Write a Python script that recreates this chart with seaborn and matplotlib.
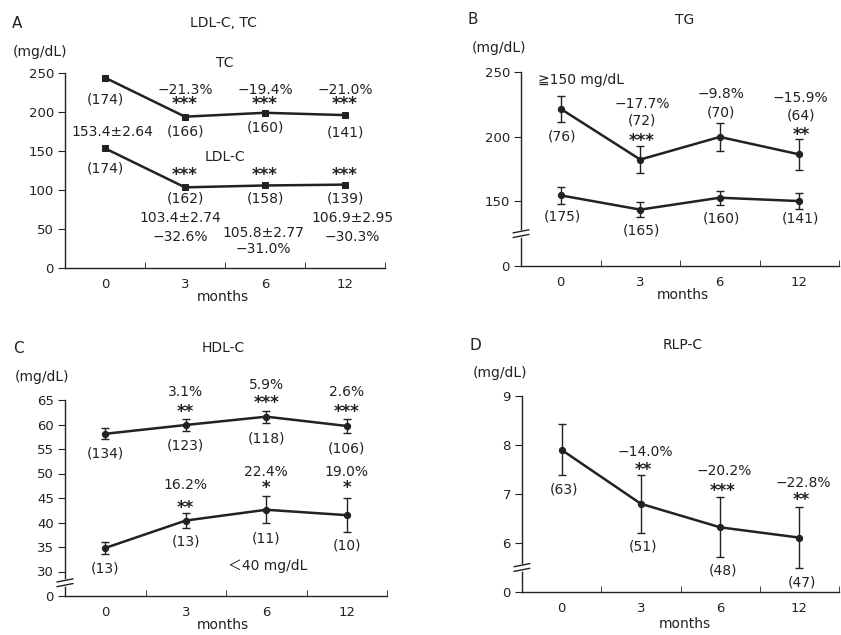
import numpy as np
import pandas as pd
import matplotlib
matplotlib.use("Agg")
import matplotlib.pyplot as plt
import seaborn as sns

# ---------------- data ----------------
months = ["0", "3", "6", "12"]

# A: LDL-C, TC
tc_mean = [244, 194, 199, 196]
tc_n = ["(174)", "(166)", "(160)", "(141)"]
tc_pct = ["", "−21.3%", "−19.4%", "−21.0%"]
ldl_mean = [153.4, 103.4, 105.8, 106.9]
ldl_se = [2.64, 2.74, 2.77, 2.95]
ldl_n = ["(174)", "(162)", "(158)", "(139)"]
ldl_pct = ["", "−32.6%", "−31.0%", "−30.3%"]
a_sig = ["", "***", "***", "***"]

# B: TG
tg_hi_mean = [221.5, 182.3, 199.8, 186.3]
tg_hi_err = [10.0, 10.5, 10.8, 12.0]
tg_hi_n = ["(76)", "(72)", "(70)", "(64)"]
tg_hi_pct = ["", "−17.7%", "−9.8%", "−15.9%"]
tg_hi_sig = ["", "***", "", "**"]
tg_all_mean = [154.6, 143.6, 152.8, 150.2]
tg_all_err = [6.5, 5.5, 5.3, 6.5]
tg_all_n = ["(175)", "(165)", "(160)", "(141)"]

# C: HDL-C
hdl_all_mean = [58.1, 59.9, 61.6, 59.7]
hdl_all_err = [1.1, 1.3, 1.2, 1.4]
hdl_all_n = ["(134)", "(123)", "(118)", "(106)"]
hdl_all_pct = ["", "3.1%", "5.9%", "2.6%"]
hdl_all_sig = ["", "**", "***", "***"]
hdl_lo_mean = [34.8, 40.4, 42.6, 41.5]
hdl_lo_err = [1.2, 1.5, 2.8, 3.5]
hdl_lo_n = ["(13)", "(13)", "(11)", "(10)"]
hdl_lo_pct = ["", "16.2%", "22.4%", "19.0%"]
hdl_lo_sig = ["", "**", "*", "*"]

# D: RLP-C
rlp_mean = [7.9, 6.8, 6.32, 6.11]
rlp_err = [0.52, 0.59, 0.61, 0.62]
rlp_n = ["(63)", "(51)", "(48)", "(47)"]
rlp_pct = ["", "−14.0%", "−20.2%", "−22.8%"]
rlp_sig = ["", "**", "***", "**"]

# ---------------- style ----------------
sns.set_style("ticks")
plt.rcParams["font.family"] = ["DejaVu Sans", "Noto Sans CJK JP"]
plt.rcParams["axes.linewidth"] = 1.0
INK = "#222222"
FS = 10
TFS = 9.5

W, H = 841, 635
fig = plt.figure(figsize=(W / 100, H / 100), dpi=100)
fig.patch.set_facecolor("white")


def ftext(x, y, s, **kw):
    kw.setdefault("fontsize", FS)
    kw.setdefault("color", INK)
    fig.text(x / W, 1 - y / H, s, **kw)


def make_ax(left, bottom, right, top):
    ax = fig.add_axes([left / W, 1 - bottom / H, (right - left) / W, (bottom - top) / H])
    sns.despine(ax=ax)
    ax.set_xlim(-0.5, 3.5)
    ax.set_xticks(range(4))
    ax.set_xticklabels(months, fontsize=TFS, color=INK)
    ax.tick_params(axis="x", which="major", length=0, pad=7)
    ax.set_xticks([0.5, 1.5, 2.5, 3.5], minor=True)
    ax.tick_params(axis="x", which="minor", direction="in", length=4, color=INK)
    ax.tick_params(axis="y", length=5, color=INK, labelsize=TFS, labelcolor=INK, pad=3)
    for s in ["left", "bottom"]:
        ax.spines[s].set_color(INK)
    ax.set_xlabel("")
    ax.set_ylabel("")
    ax.set_facecolor("white")
    return ax


def series(ax, mean, err=None, marker="o"):
    df = pd.DataFrame({"pos": np.arange(len(months)), "value": mean})
    sns.lineplot(data=df, x="pos", y="value", ax=ax, color=INK, lw=1.8,
                 marker=marker, markersize=4.5, markeredgecolor=INK, clip_on=False)
    if err is not None:
        ax.errorbar(df["pos"], df["value"], yerr=err, fmt="none", ecolor=INK,
                    elinewidth=1.0, capsize=3, capthick=1.0, clip_on=False)
    ax.set_xlabel("")
    ax.set_ylabel("")


def txt(ax, x, y, s, **kw):
    kw.setdefault("fontsize", FS)
    kw.setdefault("color", INK)
    kw.setdefault("ha", "center")
    kw.setdefault("va", "center")
    ax.text(x, y, s, clip_on=False, **kw)


def star(ax, x, y, s):
    txt(ax, x, y, s, fontsize=FS + 2, fontweight="bold", va="center")


def brk(ax, yv):
    # axis break mark on the y spine
    y0 = ax.transAxes.inverted().transform(ax.transData.transform((0, yv)))[1]
    ax.plot([0, 0], [y0 - 0.012, y0 + 0.012], transform=ax.transAxes, color="white",
            lw=2, clip_on=False, zorder=5)
    for d in (-0.012, 0.012):
        ax.plot([-0.025, 0.025], [y0 + d - 0.008, y0 + d + 0.008], transform=ax.transAxes,
                color=INK, lw=1.0, clip_on=False, zorder=6)


# ---------------- A ----------------
axA = make_ax(65, 268, 385, 73)
axA.set_ylim(0, 250)
axA.set_yticks([0, 50, 100, 150, 200, 250])
series(axA, tc_mean, marker="s")
series(axA, ldl_mean, marker="s")
ftext(17, 23, "A", ha="center", va="center", fontsize=FS + 1)
ftext(223, 23, "LDL-C, TC", ha="center", va="center")
ftext(40, 52, "(mg/dL)", ha="center", va="center")
ftext(223, 297, "months", ha="center", va="center")
txt(axA, 1.5, 262.8, "TC")
txt(axA, 1.5, 142.3, "LDL-C")
txt(axA, 0, 215.4, tc_n[0])
txt(axA, 0, 128.2, ldl_n[0])
txt(axA, 0.09, 174.4, "153.4±2.64")
tc_n_y = [None, 174.4, 179.5, 173.1]
for i in range(1, 4):
    txt(axA, i, 228.2, tc_pct[i])
    star(axA, i, 210.0, a_sig[i])
    txt(axA, i, tc_n_y[i], tc_n[i])
    star(axA, i, 119.0, a_sig[i])
    txt(axA, i, 89.7, ldl_n[i])
ldl_lab_x = [None, 0.94, 1.975, 3.09]
ldl_lab_y = [None, (64.1, 39.7), (44.9, 24.4), (64.1, 39.7)]
for i in range(1, 4):
    txt(axA, ldl_lab_x[i], ldl_lab_y[i][0], f"{ldl_mean[i]:.1f}±{ldl_se[i]:.2f}")
    txt(axA, ldl_lab_x[i], ldl_lab_y[i][1], ldl_pct[i])

# ---------------- B ----------------
axB = make_ax(521, 266, 839, 72)
axB.set_ylim(100, 250)
axB.set_yticks([100, 150, 200, 250])
axB.set_yticklabels(["0", "150", "200", "250"])
series(axB, tg_hi_mean, tg_hi_err)
series(axB, tg_all_mean, tg_all_err)
brk(axB, 125)
ftext(473, 20, "B", ha="center", va="center", fontsize=FS + 1)
ftext(685, 20, "TG", ha="center", va="center")
ftext(499, 48, "(mg/dL)", ha="center", va="center")
ftext(683, 295, "months", ha="center", va="center")
txt(axB, -0.29, 243.6, "≧150 mg/dL", ha="left")
hi_n_y = [200, 212.3, 218.7, 216.2]
hi_pct_y = [None, 225.2, 233.3, 230.2]
hi_sig_y = [None, 197.0, None, 201.5]
all_n_y = [137.9, 127.7, 136.7, 136.7]
for i in range(4):
    txt(axB, i + 0.02, hi_n_y[i], tg_hi_n[i])
    txt(axB, i + 0.02, all_n_y[i], tg_all_n[i])
    if i > 0:
        txt(axB, i + 0.02, hi_pct_y[i], tg_hi_pct[i])
        if tg_hi_sig[i]:
            star(axB, i + 0.02, hi_sig_y[i], tg_hi_sig[i])

# ---------------- C ----------------
axC = make_ax(65, 596, 387, 400)
axC.set_ylim(25, 65)
axC.set_yticks([25, 30, 35, 40, 45, 50, 55, 60, 65])
axC.set_yticklabels(["0", "30", "35", "40", "45", "50", "55", "60", "65"])
series(axC, hdl_all_mean, hdl_all_err)
series(axC, hdl_lo_mean, hdl_lo_err)
brk(axC, 27.7)
ftext(18, 348, "C", ha="center", va="center", fontsize=FS + 1)
ftext(223, 348, "HDL-C", ha="center", va="center")
ftext(42, 377, "(mg/dL)", ha="center", va="center")
ftext(223, 625, "months", ha="center", va="center")
txt(axC, 2.02, 31.1, "＜40 mg/dL")
c_all_n_y = [54.1, 55.8, 57.2, 55.1]
c_lo_n_y = [30.7, 36.1, 36.8, 35.4]
c_all_pct_y = [None, 66.7, 68.1, 66.7]
c_all_sig_y = [None, 62.6, 64.3, 62.6]
c_lo_pct_y = [None, 47.7, 50.4, 50.4]
c_lo_sig_y = [None, 42.9, 47.0, 47.0]
for i in range(4):
    txt(axC, i, c_all_n_y[i], hdl_all_n[i])
    txt(axC, i, c_lo_n_y[i], hdl_lo_n[i])
    if i > 0:
        txt(axC, i, c_all_pct_y[i], hdl_all_pct[i])
        star(axC, i, c_all_sig_y[i], hdl_all_sig[i])
        txt(axC, i, c_lo_pct_y[i], hdl_lo_pct[i])
        star(axC, i, c_lo_sig_y[i], hdl_lo_sig[i])

# ---------------- D ----------------
axD = make_ax(522, 592, 839, 396)
axD.set_ylim(5, 9)
axD.set_yticks([5, 6, 7, 8, 9])
axD.set_yticklabels(["0", "6", "7", "8", "9"])
series(axD, rlp_mean, rlp_err)
brk(axD, 5.5)
ftext(475, 345, "D", ha="center", va="center", fontsize=FS + 1)
ftext(683, 345, "RLP-C", ha="center", va="center")
ftext(500, 373, "(mg/dL)", ha="center", va="center")
ftext(685, 624, "months", ha="center", va="center")
d_n_y = [7.09, 5.92, 5.44, 5.2]
d_pct_y = [None, 7.86, 7.47, 7.22]
d_sig_y = [None, 7.5, 7.07, 6.87]
for i in range(4):
    txt(axD, i + 0.03, d_n_y[i], rlp_n[i])
    if i > 0:
        txt(axD, i + 0.05, d_pct_y[i], rlp_pct[i])
        star(axD, i + 0.03, d_sig_y[i], rlp_sig[i])

fig.savefig("out.png", dpi=100, facecolor="white")
